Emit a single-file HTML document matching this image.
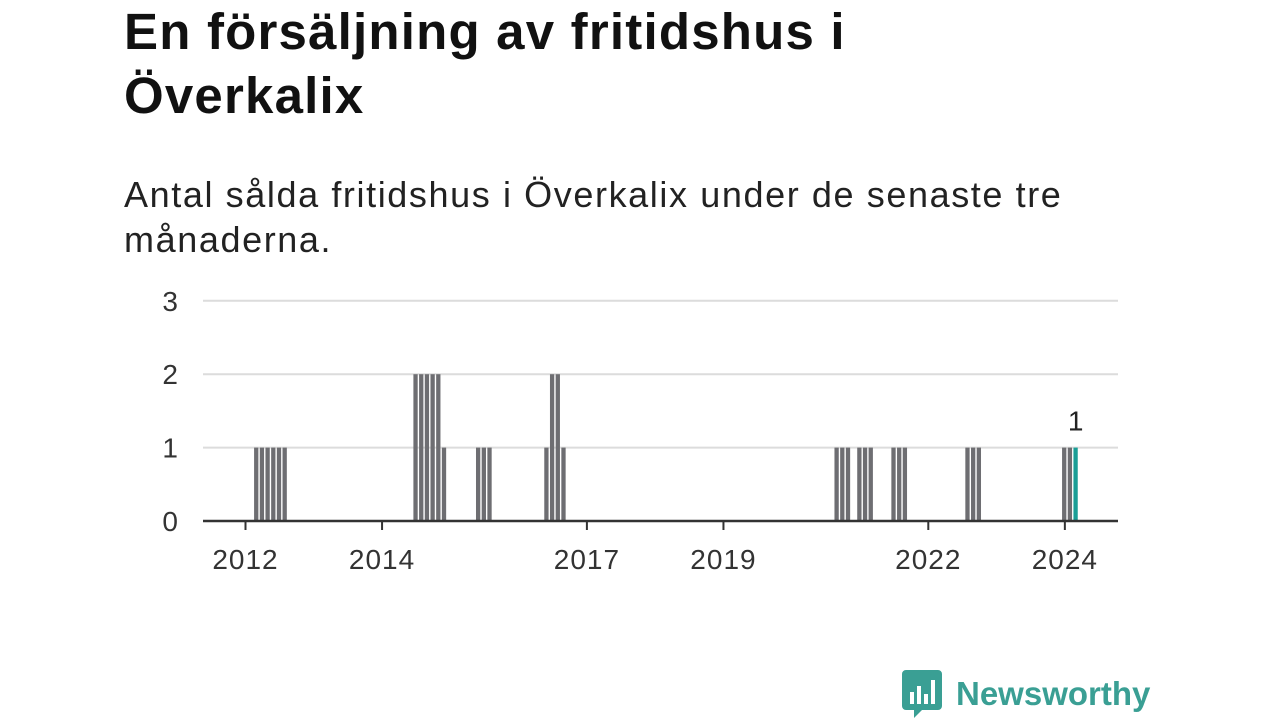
<!DOCTYPE html>
<html><head><meta charset="utf-8"><style>
body{margin:0;width:1280px;height:720px;background:#fff;font-family:"Liberation Sans",sans-serif;overflow:hidden;position:relative}
h1{position:absolute;left:124px;top:0px;margin:0;font-size:51px;line-height:64px;font-weight:bold;color:#111;letter-spacing:1.2px}
.sub{position:absolute;left:124px;top:172px;margin:0;font-size:36px;line-height:45px;color:#222;letter-spacing:1.6px}
.logo{position:absolute;left:902px;top:670px;display:flex;align-items:center}
.logo span{font-size:33px;font-weight:bold;color:#3a9f94;margin-left:14px}
</style></head><body>
<h1>En försäljning av fritidshus i<br>Överkalix</h1>
<p class="sub">Antal sålda fritidshus i Överkalix under de senaste tre<br>månaderna.</p>
<svg id="chart" width="1280" height="720" style="position:absolute;left:0;top:0"></svg>
<div class="logo">
<svg width="40" height="48" viewBox="0 0 40 48"><path d="M0 4 a4 4 0 0 1 4-4 h32 a4 4 0 0 1 4 4 v32 a4 4 0 0 1-4 4 h-16 l-8 8 v-8 h-8 a4 4 0 0 1-4-4z" fill="#3a9f94"/><rect x="8" y="22" width="4" height="12" fill="#fff"/><rect x="15" y="16" width="4" height="18" fill="#fff"/><rect x="22" y="24" width="4" height="10" fill="#fff"/><rect x="29" y="10" width="4" height="24" fill="#fff"/></svg>
<span>Newsworthy</span></div>
<script>
const startYear = 2012;
const values = [
0,0,1,1,1,1,1,1,0,0,0,0,
0,0,0,0,0,0,0,0,0,0,0,0,
0,0,0,0,0,0,2,2,2,2,2,1,
0,0,0,0,0,1,1,1,0,0,0,0,
0,0,0,0,0,1,2,2,1,0,0,0,
0,0,0,0,0,0,0,0,0,0,0,0,
0,0,0,0,0,0,0,0,0,0,0,0,
0,0,0,0,0,0,0,0,0,0,0,0,
0,0,0,0,0,0,0,0,1,1,1,0,
1,1,1,0,0,0,1,1,1,0,0,0,
0,0,0,0,0,0,0,1,1,1,0,0,
0,0,0,0,0,0,0,0,0,0,0,0,
1,1,1];
const yTicks = [0,1,2,3];
const xTickYears = [2012,2014,2017,2019,2022,2024];
const lastLabel = "1";

const NS="http://www.w3.org/2000/svg";
const svg=document.getElementById('chart');
const X0=245.5, MW=5.69, Y0=521, YU=73.4, L=203, R=1118;
const x=m=>X0+m*MW;
const y=v=>Y0-v*YU;
function mk(t,a){const e=document.createElementNS(NS,t);for(const k in a)e.setAttribute(k,a[k]);svg.appendChild(e);return e;}
yTicks.forEach(v=>{
  if(v>0){const g=mk('line',{x1:L,x2:R,y1:y(v),y2:y(v),stroke:'#dcdcdc','stroke-width':2});
  
  }
  const t=mk('text',{x:178,y:y(v)+10,'text-anchor':'end','font-size':28,fill:'#333'});
  t.textContent=v;
  
  
});
values.forEach((v,i)=>{
  if(!v)return;
  const last=i===values.length-1;
  const b=mk('rect',{x:x(i)-2.8,y:y(v),width:4.3,height:Y0-y(v),fill:last?'#1a9e96':'#6e6e72'});
  
  
});
const ax=mk('line',{x1:L,x2:R,y1:Y0,y2:Y0,stroke:'#333','stroke-width':2.5});


xTickYears.forEach(yr=>{
  const px=x((yr-startYear)*12);
  const tk=mk('line',{x1:px,x2:px,y1:Y0,y2:Y0+9,stroke:'#333','stroke-width':2});
  
  
  const t=mk('text',{x:px,y:569,'text-anchor':'middle','font-size':28,'letter-spacing':1,fill:'#333'});
  t.textContent=yr;
  
  
});
const li=values.length-1;
const lb=mk('text',{x:x(li)-0.6,y:y(values[li])-17,'text-anchor':'middle','font-size':28,fill:'#222'});
lb.textContent=lastLabel;


</script>
</body></html>
